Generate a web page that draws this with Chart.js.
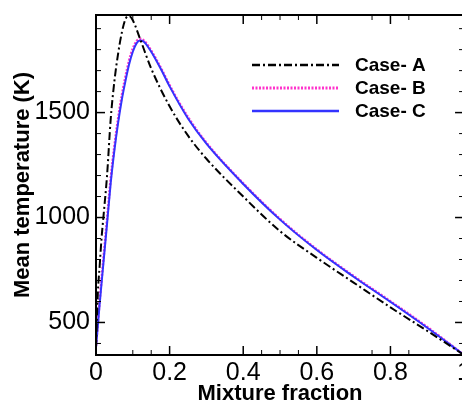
<!DOCTYPE html>
<html>
<head>
<meta charset="utf-8">
<script src="https://cdn.jsdelivr.net/npm/chart.js@4.4.1/dist/chart.umd.min.js"></script>
<style>
  html, body { margin: 0; padding: 0; background: #fff; overflow: hidden; }
  #wrap { width: 474px; height: 412px; margin-top: -6px; }
</style>
</head>
<body>
<div id="wrap"><canvas id="tempChart" width="474" height="412"></canvas></div>
<script>
// mixture fraction vs mean temperature
const mixA  = [0, 0.005, 0.01, 0.015, 0.02, 0.03, 0.04, 0.05, 0.06, 0.07, 0.08, 0.09, 0.1, 0.12, 0.15, 0.2, 0.25, 0.3, 0.4, 0.5, 0.6, 0.7, 0.8, 0.9, 1.0];
const tempA = [380, 640, 770, 900, 1000, 1200, 1470, 1650, 1780, 1880, 1945, 1960, 1940, 1850, 1710, 1530, 1390, 1280, 1100, 935, 808, 690, 572, 460, 345];

const mixBC = [0, 0.01, 0.02, 0.03, 0.04, 0.05, 0.06, 0.07, 0.08, 0.09, 0.1, 0.11, 0.12, 0.13, 0.15, 0.18, 0.2, 0.25, 0.3, 0.4, 0.5, 0.6, 0.7, 0.8, 0.9, 1.0];
const tempB = [390, 605, 800, 990, 1185, 1340, 1470, 1580, 1670, 1748, 1805, 1840, 1851, 1843, 1795, 1700, 1630, 1478, 1356, 1163, 993, 848, 721, 601, 478, 345];
const tempC = [380, 590, 780, 970, 1165, 1320, 1450, 1560, 1650, 1730, 1790, 1830, 1844, 1838, 1790, 1695, 1625, 1472, 1352, 1160, 990, 845, 718, 598, 475, 345];

const caseLabels = ["Case- A", "Case- B", "Case- C"];

const xMajorTicks = [0, 0.2, 0.4, 0.6, 0.8, 1];
const xMinorTicks = [0.1, 0.15, 0.45, 0.5, 0.55, 0.75, 0.85];
const yMajorTicks = [500, 1000, 1500];
const yMinorTicks = [400, 600, 700, 800, 900, 1100, 1200, 1300, 1400, 1600, 1700, 1800, 1900];

const toPoints = (xs, ys) => xs.map((x, i) => ({ x: x, y: ys[i] }));

// box around the plot with ticks pointing inward on all four sides
const frameTicks = {
  id: "frameTicks",
  afterDatasetsDraw(chart) {
    const { ctx, chartArea: a, scales: { x, y } } = chart;
    ctx.save();
    ctx.strokeStyle = "#000";
    ctx.lineWidth = 2;
    ctx.strokeRect(a.left, a.top, a.right - a.left, a.bottom - a.top);
    const tick = (x1, y1, x2, y2) => {
      ctx.beginPath(); ctx.moveTo(x1, y1); ctx.lineTo(x2, y2); ctx.stroke();
    };
    ctx.lineWidth = 1.5;
    xMajorTicks.forEach(v => {
      const px = x.getPixelForValue(v);
      tick(px, a.bottom, px, a.bottom - 9);
      tick(px, a.top, px, a.top + 9);
    });
    ctx.lineWidth = 1;
    xMinorTicks.forEach(v => {
      const px = x.getPixelForValue(v);
      tick(px, a.bottom, px, a.bottom - 5);
      tick(px, a.top, px, a.top + 5);
    });
    ctx.lineWidth = 1.5;
    yMajorTicks.forEach(v => {
      const py = y.getPixelForValue(v);
      tick(a.left, py, a.left + 9, py);
      tick(a.right, py, a.right - 9, py);
    });
    ctx.lineWidth = 1;
    yMinorTicks.forEach(v => {
      const py = y.getPixelForValue(v);
      tick(a.left, py, a.left + 5, py);
      tick(a.right, py, a.right - 5, py);
    });
    ctx.restore();
  }
};

// legend inside the plot, top right
const insideLegend = {
  id: "insideLegend",
  afterDraw(chart) {
    const { ctx } = chart;
    ctx.save();
    ctx.font = "bold 19px 'Liberation Sans', Arial, sans-serif";
    ctx.textBaseline = "middle";
    ctx.fillStyle = "#000";
    chart.data.datasets.forEach((ds, i) => {
      const ly = 71 + i * 23; // canvas is shifted up 6px
      ctx.strokeStyle = ds.borderColor;
      ctx.lineWidth = ds.borderWidth + 0.5;
      ctx.setLineDash(ds.borderDash || []);
      ctx.beginPath(); ctx.moveTo(252, ly); ctx.lineTo(339, ly); ctx.stroke();
      ctx.setLineDash([]);
      ctx.fillText(ds.label, 355, ly + 1);
    });
    ctx.restore();
  }
};

const ctx = document.getElementById("tempChart").getContext("2d");
new Chart(ctx, {
  type: "line",
  data: {
    datasets: [
      {
        label: caseLabels[0],
        data: toPoints(mixA, tempA),
        borderColor: "#000000",
        borderWidth: 2,
        borderDash: [8, 3, 2, 3],
        order: 0
      },
      {
        label: caseLabels[1],
        data: toPoints(mixBC, tempB),
        borderColor: "#ff33cc",
        borderWidth: 2.5,
        borderDash: [2, 1.5],
        order: 2
      },
      {
        label: caseLabels[2],
        data: toPoints(mixBC, tempC),
        borderColor: "#3333ff",
        borderWidth: 2,
        order: 1
      }
    ]
  },
  options: {
    responsive: false,
    animation: false,
    events: [],
    layout: { padding: { top: 0, right: 3, left: 0, bottom: 0 } },
    elements: {
      point: { radius: 0 },
      line: { cubicInterpolationMode: "monotone", fill: false }
    },
    plugins: {
      legend: { display: false },
      tooltip: { enabled: false }
    },
    scales: {
      x: {
        type: "linear",
        min: 0,
        max: 1,
        afterBuildTicks: scale => { scale.ticks = xMajorTicks.map(v => ({ value: v })); },
        afterFit: scale => { scale.height = 51; },
        grid: { display: false, drawTicks: false },
        border: { display: false },
        ticks: {
          color: "#000",
          padding: 3,
          maxRotation: 0,
          font: { family: "'Liberation Sans', Arial, sans-serif", size: 25 },
          callback: v => String(v)
        },
        title: {
          display: true,
          text: "Mixture fraction",
          color: "#000",
          padding: { top: 0, bottom: 1 },
          font: { family: "'Liberation Sans', Arial, sans-serif", size: 22, weight: "bold", lineHeight: 1 }
        }
      },
      y: {
        type: "linear",
        min: 345,
        max: 1965,
        afterBuildTicks: scale => { scale.ticks = yMajorTicks.map(v => ({ value: v })); },
        afterFit: scale => { scale.width = 96; },
        grid: { display: false, drawTicks: false },
        border: { display: false },
        ticks: {
          color: "#000",
          padding: 6,
          font: { family: "'Liberation Sans', Arial, sans-serif", size: 25 },
          callback: v => String(v)
        },
        title: {
          display: true,
          text: "Mean temperature (K)",
          color: "#000",
          padding: { top: 12, bottom: 0 },
          font: { family: "'Liberation Sans', Arial, sans-serif", size: 22, weight: "bold", lineHeight: 1 }
        }
      }
    }
  },
  plugins: [frameTicks, insideLegend]
});
</script>
</body>
</html>
